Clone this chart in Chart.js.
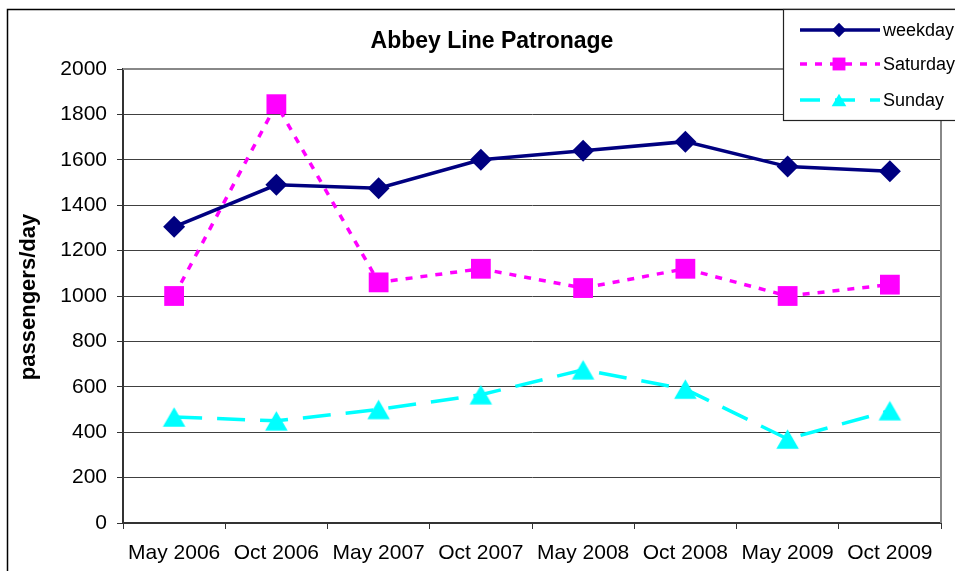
<!DOCTYPE html>
<html>
<head>
<meta charset="utf-8">
<script src="https://cdn.jsdelivr.net/npm/chart.js@4.4.1/dist/chart.umd.min.js"></script>
<style>
    html, body { margin: 0; padding: 0; background: #fff; }
    #wrap { width: 955px; height: 571px; position: relative; }
</style>
</head>
<body>
<div id="wrap"><canvas id="chart" width="955" height="571"></canvas></div>
<script>
// --- Data ---
const categories = ['May 2006', 'Oct 2006', 'May 2007', 'Oct 2007', 'May 2008', 'Oct 2008', 'May 2009', 'Oct 2009'];
const weekdayValues = [1305, 1490, 1475, 1600, 1640, 1680, 1570, 1550];
const saturdayValues = [1000, 1845, 1060, 1120, 1035, 1120, 1000, 1050];
const sundayValues = [467, 450, 500, 565, 675, 590, 370, 495];
const yTicks = [0, 200, 400, 600, 800, 1000, 1200, 1400, 1600, 1800, 2000];

const chartTitle = 'Abbey Line Patronage';
const yTitle = 'passengers/day';

const FONT = '"Liberation Sans", Arial, sans-serif';

const series = [
    { label: 'weekday', data: weekdayValues, color: '#000080', style: 'rectRot', radius: 11, dash: [], width: 3.5 },
    { label: 'Saturday', data: saturdayValues, color: '#FF00FF', style: 'rect', radius: 14, dash: [7, 8], width: 3.5 },
    { label: 'Sunday', data: sundayValues, color: '#00FFFF', style: 'triangle', radius: 13, dash: [28, 15], width: 3.5 }
];

// --- Helpers ---
function drawMarker(ctx, style, x, y, r, color) {
    ctx.save();
    ctx.fillStyle = color;
    ctx.beginPath();
    if (style === 'rectRot') {
        ctx.moveTo(x - r, y);
        ctx.lineTo(x, y - r);
        ctx.lineTo(x + r, y);
        ctx.lineTo(x, y + r);
    } else if (style === 'rect') {
        const s = r * Math.SQRT1_2;
        ctx.rect(x - s, y - s, 2 * s, 2 * s);
    } else {
        const h = r * 1.5, w = r * Math.sqrt(3) / 2;
        ctx.moveTo(x, y - h / 2);
        ctx.lineTo(x + w, y + h / 2);
        ctx.lineTo(x - w, y + h / 2);
    }
    ctx.closePath();
    ctx.fill();
    ctx.restore();
}

// triangle centred on its box (like Excel), used as point image
function triangleImage(r, color) {
    const c = document.createElement('canvas');
    c.width = Math.ceil(r * Math.sqrt(3)) + 2;
    c.height = Math.ceil(r * 1.5) + 2;
    drawMarker(c.getContext('2d'), 'triangle', c.width / 2, c.height / 2, r, color);
    return c;
}

// frame, plot border, titles, legend box
const decorPlugin = {
    id: 'decor',
    beforeDraw(chart) {
        const ctx = chart.ctx;
        ctx.save();
        ctx.fillStyle = '#fff';
        ctx.fillRect(0, 0, chart.width, chart.height);
        ctx.strokeStyle = '#000';
        ctx.lineWidth = 1.5;
        ctx.strokeRect(7.5, 9.5, 1000, 1000);
        ctx.restore();
    },
    afterDraw(chart) {
        const ctx = chart.ctx;
        const a = chart.chartArea;
        ctx.save();

        // top / right plot border (grey)
        ctx.strokeStyle = '#888';
        ctx.lineWidth = 2;
        ctx.beginPath();
        ctx.moveTo(a.left, a.top);
        ctx.lineTo(a.right, a.top);
        ctx.lineTo(a.right, a.bottom);
        ctx.stroke();

        // chart title
        ctx.fillStyle = '#000';
        ctx.font = 'bold 23px ' + FONT;
        ctx.textAlign = 'center';
        ctx.textBaseline = 'middle';
        ctx.fillText(chartTitle, 492, 42);

        // y axis title
        ctx.save();
        ctx.translate(29, 297);
        ctx.rotate(-Math.PI / 2);
        ctx.font = 'bold 22px ' + FONT;
        ctx.fillText(yTitle, 0, 0);
        ctx.restore();

        // legend
        const lx = 783, ly = 9.5;
        ctx.fillStyle = '#fff';
        ctx.fillRect(lx, ly, 200, 111);
        ctx.strokeStyle = '#222';
        ctx.lineWidth = 1.2;
        ctx.strokeRect(lx + 0.5, ly, 200, 111);

        const rows = [30, 64, 100];
        series.forEach((s, i) => {
            const y = rows[i];
            ctx.save();
            ctx.strokeStyle = s.color;
            ctx.lineWidth = s.width;
            ctx.setLineDash(s.dash.length ? [Math.min(s.dash[0], 20), s.dash[1]] : []);
            ctx.beginPath();
            ctx.moveTo(800, y);
            ctx.lineTo(880, y);
            ctx.stroke();
            ctx.restore();
            drawMarker(ctx, s.style, 839, y, s.radius * 0.65, s.color);
            ctx.fillStyle = '#000';
            ctx.font = '18px ' + FONT;
            ctx.textAlign = 'left';
            ctx.textBaseline = 'middle';
            ctx.fillText(s.label, 883, y + 1);
        });

        ctx.restore();
    }
};

const ctx = document.getElementById('chart').getContext('2d');
new Chart(ctx, {
    type: 'line',
    data: {
        labels: categories,
        datasets: series.map(s => ({
            label: s.label,
            data: s.data,
            borderColor: s.color,
            backgroundColor: s.color,
            borderWidth: s.width,
            borderDash: s.dash,
            tension: 0,
            fill: false,
            pointStyle: s.style === 'triangle' ? triangleImage(s.radius, s.color) : s.style,
            pointRadius: s.radius,
            pointBorderWidth: 0,
            pointBackgroundColor: s.color,
            pointBorderColor: s.color
        }))
    },
    options: {
        responsive: false,
        animation: false,
        devicePixelRatio: 1,
        layout: { padding: { top: 69, right: 11, left: 0, bottom: 0 } },
        plugins: {
            legend: { display: false },
            title: { display: false },
            tooltip: { enabled: false }
        },
        scales: {
            x: {
                offset: true,
                grid: { display: true, offset: true, drawOnChartArea: false, tickLength: 6, color: '#333', lineWidth: 1 },
                border: { color: '#333', width: 2 },
                ticks: { color: '#000', font: { family: FONT, size: 21 }, padding: 12, maxRotation: 0, autoSkip: false },
                afterFit: scale => { scale.height = 48; }
            },
            y: {
                min: 0,
                max: 2000,
                afterBuildTicks: scale => { scale.ticks = yTicks.map(v => ({ value: v })); },
                grid: { color: '#404040', lineWidth: 1, tickLength: 6, tickColor: '#333' },
                border: { color: '#333', width: 2 },
                ticks: { color: '#000', font: { family: FONT, size: 21 }, padding: 10, callback: v => String(v) },
                afterFit: scale => { scale.width = 123; }
            }
        }
    },
    plugins: [decorPlugin]
});
</script>
</body>
</html>
